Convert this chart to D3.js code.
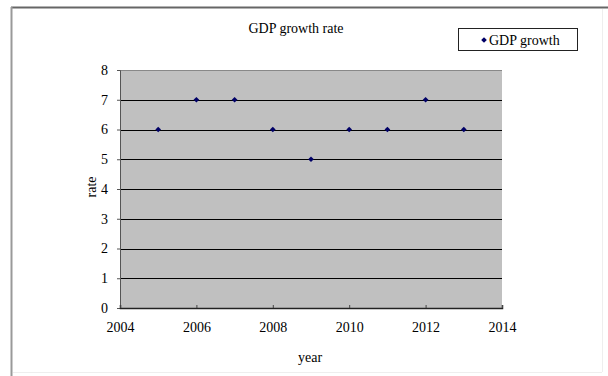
<!DOCTYPE html>
<html>
<head>
<meta charset="utf-8">
<script src="https://cdn.jsdelivr.net/npm/d3@7"></script>
<style>
  body { margin: 0; background: #fff; }
  svg text { font-family: "Liberation Serif", "DejaVu Serif", serif; fill: #000; }
</style>
</head>
<body>
<svg id="chart" width="608" height="376"></svg>
<script>
// data
const years = [2005, 2006, 2007, 2008, 2009, 2010, 2011, 2012, 2013];
const growth = [6, 7, 7, 6, 5, 6, 6, 7, 6];
const xTicks = [2004, 2006, 2008, 2010, 2012, 2014];
const yTicks = [0, 1, 2, 3, 4, 5, 6, 7, 8];

const svg = d3.select('#chart');
const margin = {l: 120, t: 70, r: 106, b: 68};
const w = 608 - margin.l - margin.r;
const h = 376 - margin.t - margin.b;

// outer frame
svg.append('line').attr('x1', 11).attr('x2', 608).attr('y1', 7.5).attr('y2', 7.5)
    .attr('stroke', '#666').attr('stroke-width', 2);
svg.append('line').attr('x1', 11.5).attr('x2', 11.5).attr('y1', 7).attr('y2', 376)
    .attr('stroke', '#999').attr('stroke-width', 2);
svg.append('line').attr('x1', 602.5).attr('x2', 602.5).attr('y1', 9).attr('y2', 372)
    .attr('stroke', '#eee');
svg.append('line').attr('x1', 13).attr('x2', 602).attr('y1', 372.5).attr('y2', 372.5)
    .attr('stroke', '#eee');

let scaleX = d3.scaleLinear().domain([2004, 2014]).range([0, w]);
let scaleY = d3.scaleLinear().domain([0, 8]).range([h, 0]);

let g = svg.append('g').attr('transform', `translate(${margin.l}, ${margin.t})`);

g.append('rect').attr('width', w).attr('height', h).attr('fill', '#c0c0c0');

// gridlines
g.selectAll('.grid').data(yTicks.filter(d => d > 0 && d < 8)).join('line')
    .attr('class', 'grid')
    .attr('x1', 0).attr('x2', w)
    .attr('y1', d => Math.round(scaleY(d)) + 0.5)
    .attr('y2', d => Math.round(scaleY(d)) + 0.5)
    .attr('stroke', '#000').attr('stroke-width', 1);

// top edge
g.append('line').attr('x1', 0).attr('x2', w).attr('y1', 0.5).attr('y2', 0.5)
    .attr('stroke', '#888');

// axes
let axisY = g.append('g')
    .call(d3.axisLeft(scaleY).tickValues(yTicks).tickSize(3).tickPadding(9).tickFormat(d3.format('d')));
axisY.select('.domain').attr('stroke', '#555');
axisY.selectAll('line').attr('stroke', '#555');
axisY.selectAll('text').style('font-size', '14px');

let axisX = g.append('g').attr('transform', `translate(0, ${h})`)
    .call(d3.axisBottom(scaleX).tickValues(xTicks).tickSize(-3).tickPadding(14).tickFormat(d3.format('d')));
axisX.select('.domain').attr('stroke', '#222').attr('stroke-width', 1.5);
axisX.selectAll('line').attr('stroke', '#444');
axisX.selectAll('text').style('font-size', '14px');

// points
const diamond = d3.symbol().type(d3.symbolSquare).size(16);
g.selectAll('.pt').data(years).join('path')
    .attr('class', 'pt')
    .attr('transform', (d, i) => `translate(${scaleX(d)}, ${scaleY(growth[i])}) rotate(45)`)
    .attr('d', diamond)
    .attr('fill', '#000066');

// labels
svg.append('text').attr('x', 296).attr('y', 33).attr('text-anchor', 'middle')
    .style('font-size', '14px').text('GDP growth rate');
svg.append('text').attr('x', 310).attr('y', 362).attr('text-anchor', 'middle')
    .style('font-size', '14px').text('year');
svg.append('text').attr('transform', 'translate(96, 187) rotate(-90)').attr('text-anchor', 'middle')
    .style('font-size', '14px').text('rate');

// legend
let legend = svg.append('g');
legend.append('rect').attr('x', 458.5).attr('y', 28.5).attr('width', 119).attr('height', 22)
    .attr('fill', '#fff').attr('stroke', '#222').attr('stroke-width', 1);
legend.append('path').attr('d', diamond).attr('transform', 'translate(484, 40) rotate(45)').attr('fill', '#000066');
legend.append('text').attr('x', 489).attr('y', 44.5).style('font-size', '14px').text('GDP growth');
</script>
</body>
</html>
